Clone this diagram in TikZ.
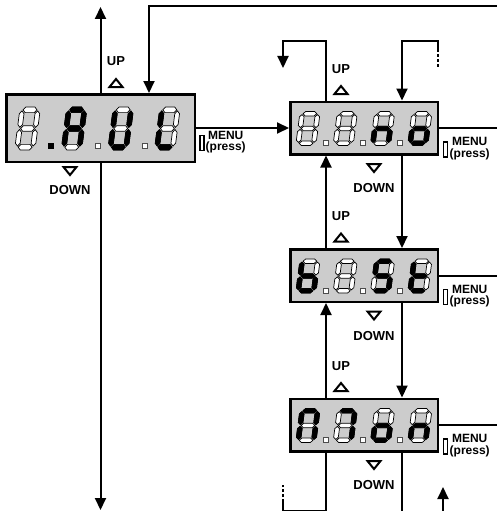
\documentclass[tikz,border=0pt]{standalone}
\usepackage{fontspec}
\setmainfont{Liberation Sans}
\usetikzlibrary{arrows.meta,calc}

% seven-segment cells: 1 wide, 2 high
\newcommand{\dsega}{(0.06,2)--(0.21,2.15)--(0.79,2.15)--(0.94,2)--(0.79,1.85)--(0.21,1.85)--cycle}
\newcommand{\dsegg}{(0.06,1)--(0.21,1.15)--(0.79,1.15)--(0.94,1)--(0.79,0.85)--(0.21,0.85)--cycle}
\newcommand{\dsegd}{(0.06,0)--(0.21,0.15)--(0.79,0.15)--(0.94,0)--(0.79,-0.15)--(0.21,-0.15)--cycle}
\newcommand{\dsegf}{(0,1.06)--(0.15,1.21)--(0.15,1.79)--(0,1.94)--(-0.15,1.79)--(-0.15,1.21)--cycle}
\newcommand{\dsege}{(0,0.06)--(0.15,0.21)--(0.15,0.79)--(0,0.94)--(-0.15,0.79)--(-0.15,0.21)--cycle}
\newcommand{\dsegb}{(1,1.06)--(1.15,1.21)--(1.15,1.79)--(1,1.94)--(0.85,1.79)--(0.85,1.21)--cycle}
\newcommand{\dsegc}{(1,0.06)--(1.15,0.21)--(1.15,0.79)--(1,0.94)--(0.85,0.79)--(0.85,0.21)--cycle}
\newcommand{\dsegn}{}
\newcommand{\segdigit}[3]{%
  \begin{scope}[shift={#2},#1,xslant=0.13]
    \foreach \s in {a,b,c,d,e,f,g}{\edef\segpath{\csname dseg\s\endcsname}\filldraw[segoff] \segpath;}
    \edef\litlist{#3}
    \foreach \s in \litlist{\edef\segpath{\csname dseg\s\endcsname}\filldraw[segon] \segpath;}
  \end{scope}}

\begin{document}
\begin{tikzpicture}[x=1pt,y=-1pt,
  display/.style={draw,line width=2.5pt,fill=gray!40,minimum width=147.5pt,minimum height=52.5pt,inner sep=0pt},
  bigdisplay/.style={display,minimum width=188.5pt,minimum height=67.5pt},
  bigseg/.style={x=15.7pt,y=18.7pt},
  smallseg/.style={x=15.5pt,y=14.8pt},
  segoff/.style={fill=white,draw=black,line width=0.7pt},
  segon/.style={fill=black,draw=black,line width=0.7pt},
  dpoff/.style={fill=white,draw=black!70,line width=0.6pt},
  dpon/.style={fill=black},
  button/.style={draw,line width=1.6pt,fill=white,minimum width=4pt,minimum height=15pt,inner sep=0pt},
  keytext/.style={font=\bfseries\fontsize{12}{11.5}\selectfont,align=center,inner sep=0pt,anchor=west},
  lbl/.style={font=\bfseries\fontsize{13}{13}\selectfont,inner sep=0pt},
  tri/.style={draw,line width=2pt,fill=white,line join=miter},
  uptri/.pic={\path[tri] (-6.5,4) -- (6.5,4) -- (0,-4) -- cycle;},
  downtri/.pic={\path[tri] (-6.5,-4) -- (6.5,-4) -- (0,4) -- cycle;},
  wire/.style={line width=2pt},
  arrow/.style={wire,-{Triangle[length=12pt,width=11pt]}},
  dashedwire/.style={wire,dash pattern=on 3pt off 2pt}
]
  \useasboundingbox (0,0) rectangle (497,511);

  % main display
  \node[bigdisplay] (acc) at (100.5,128) {};
  \foreach \x/\segs in {17.3/n,63.9/{a,b,c,e,f,g},110.5/{b,c,d,e,f},157.1/{d,e,f}}
    \segdigit{bigseg}{(\x,147.2)}{\segs};
  \filldraw[dpon] (48,148) rectangle (53,143);
  \filldraw[dpoff] (95,148) rectangle (100,143);
  \filldraw[dpoff] (142,148) rectangle (147,143);
  \node[lbl] (up1) at (116,61) {UP};
  \pic at (116,83) {uptri};
  \pic at (70,171) {downtri};
  \node[lbl] (down1) at (70,190) {DOWN};
  \node[button] (key1) at (202,143) {};
  \node[keytext] (menu1) at (205.5,142) {MENU\\(press)};

  % menu displays
  \foreach \n/\cy/\ua/\ub/\uc/\ud in {2/128/n/n/{c,e,g}/{c,d,e,g},
      3/275.5/{c,d,e,f,g}/n/{a,c,d,f,g}/{d,e,f,g},
      4/425/{a,b,c,e,f}/{a,b,c}/{c,d,e,g}/{c,e,g}} {
    \node[display] (d\n) at (364,\cy) {};
    \segdigit{smallseg}{(298.3,\cy+15.3)}{\ua};
    \segdigit{smallseg}{(335.6,\cy+15.3)}{\ub};
    \segdigit{smallseg}{(372.9,\cy+15.3)}{\uc};
    \segdigit{smallseg}{(410.2,\cy+15.3)}{\ud};
    \foreach \x in {323,360.3,397.6}
      \filldraw[dpoff] (\x,\cy+17.5) rectangle (\x+5,\cy+12.5);
    \node[lbl] (up\n) at (341,\cy-59) {UP};
    \pic at (341,\cy-38) {uptri};
    \pic at (374,\cy+40) {downtri};
    \node[lbl] (down\n) at (374,\cy+60.5) {DOWN};
    \node[button] (key\n) at (445.5,\cy+21.5) {};
    \node[keytext] (menu\n) at (449.5,\cy+20.5) {MENU\\(press)};
  }

  \coordinate (rim) at (497,0);
  \coordinate (floor) at (0,511);
  \coordinate (topin) at (497,6);
  \coordinate (uptip) at (100.5,7);
  \coordinate (downtip) at (100.5,510);
  \coordinate (back) at (283,68);
  \coordinate (fwd) at (438,67);
  \coordinate (lo) at (283,485);
  \coordinate (inlo) at (443,511);
  \coordinate (inhi) at (443,487);

  \draw[arrow] (acc.north) -- (uptip);
  \draw[arrow] (acc.south) -- (downtip);
  \draw[arrow] (topin) -| ([xshift=48.5pt]acc.north);
  \draw[arrow] (acc.east) -- (d2.west);

  \draw[arrow] ([xshift=-38pt]d2.north) -- ++(0,-59) -| (back);
  \draw[dashedwire] (fwd) -- ++(0,-16);
  \draw[arrow] ($(fwd)+(0,-16)$) |- ([xshift=38pt,yshift=59pt]d2.north) -- ([xshift=38pt]d2.north);

  \foreach \n in {2,3,4}
    \draw[wire] (d\n.east) -- (d\n.east -| rim);
  \foreach \a/\b in {2/3,3/4} {
    \draw[arrow] ([xshift=38pt]d\a.south) -- ([xshift=38pt]d\b.north);
    \draw[arrow] ([xshift=-38pt]d\b.north) -- ([xshift=-38pt]d\a.south);
  }

  \draw[wire] ([xshift=-38pt]d4.south) -- ++(0,58.5) -| ($(lo)+(0,17)$);
  \draw[dashedwire] ($(lo)+(0,17)$) -- (lo);
  \draw[wire] ([xshift=38pt]d4.south) -- ([xshift=38pt]d4.south |- floor);
  \draw[arrow] (inlo) -- (inhi);
\end{tikzpicture}
\end{document}
